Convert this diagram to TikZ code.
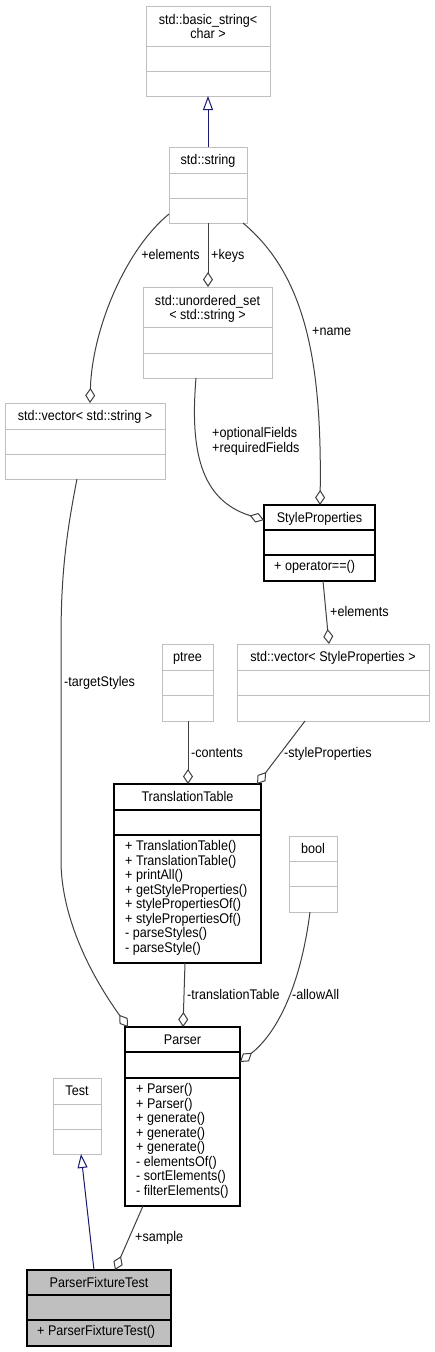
\documentclass[tikz,border=0pt]{standalone}
\usepackage{fontspec}
\setmainfont{Liberation Sans}[FakeStretch=0.9]
\usetikzlibrary{arrows.meta,calc}
\definecolor{edgec}{HTML}{404040}
\definecolor{grayb}{HTML}{BFBFBF}
\definecolor{navyc}{HTML}{191970}
\definecolor{fillg}{HTML}{BFBFBF}
% name, x1, y1, x2, y2, divider1, divider2, style
\newcommand\umlcls[8]{%
  \node[#8, anchor=north west, outer sep=0pt, inner sep=0pt, minimum width={#4-#2}, minimum height={#5-#3}] (#1) at (#2,#3) {};
  \draw[#8] (#2,#6) -- (#4,#6) (#2,#7) -- (#4,#7);
}
\begin{document}
\begin{tikzpicture}[x=1pt,y=-1pt,
  every node/.style={font=\fontsize{14}{14.5}\selectfont, inner sep=0pt},
  blk/.style={draw=black, line width=1.2pt},
  gry/.style={draw=grayb, line width=1pt},
  cur/.style={draw=black, line width=1.2pt, fill=fillg},
  agg/.style={draw=edgec, line width=1pt, -{Diamond[open,length=15pt,width=10pt]}},
  inh/.style={draw=navyc, line width=1pt, -{Triangle[open,length=14pt,width=10pt]}},
  ttl/.style={anchor=base},
  lbl/.style={anchor=base west},
  mth/.style={anchor=base west}]
\fill[white] (0,0) rectangle (435,1352);
\useasboundingbox (0,0) rectangle (435,1352);

% classes
\umlcls{bs}{146}{6}{270}{96}{46}{71}{gry}
\node[ttl] (bs-t1) at (208,24) {std::basic\_string<};
\node[ttl] (bs-t2) at (208,38.5) {char >};

\umlcls{str}{169}{147}{247}{223}{173}{198}{gry}
\node[ttl] (str-t) at (208,164.5) {std::string};

\umlcls{us}{143}{287}{272}{378}{327}{353}{gry}
\node[ttl] (us-t1) at (207.5,305) {std::unordered\_set};
\node[ttl] (us-t2) at (207.5,319.5) {< std::string >};

\umlcls{vs}{5}{403}{165}{479}{429}{454}{gry}
\node[ttl] (vs-t) at (85,420.5) {std::vector< std::string >};

\umlcls{sp}{264}{505}{375}{581}{530}{555}{blk}
\node[ttl] (sp-t) at (319.5,522.5) {StyleProperties};
\node[mth] (sp-m0) at (274,570.5) {+ operator==()};

\umlcls{pt}{162}{644}{213}{721}{670}{695}{gry}
\node[ttl] (pt-t) at (187.5,661.5) {ptree};

\umlcls{vsp}{237}{644}{429}{721}{670}{695}{gry}
\node[ttl] (vsp-t) at (333,661.5) {std::vector< StyleProperties >};

\umlcls{tt}{114}{784}{261}{963}{810}{835}{blk}
\node[ttl] (tt-t) at (187.5,801.5) {TranslationTable};
\foreach \t [count=\i from 0] in {+ TranslationTable(), + TranslationTable(), + printAll(), + getStyleProperties(), + stylePropertiesOf(), + stylePropertiesOf(), - parseStyles(), - parseStyle()}
  \node[mth] (tt-m\i) at (125,{850.5+14.5*\i}) {\t};

\umlcls{bool}{289}{836}{337}{912}{861}{886}{gry}
\node[ttl] (bool-t) at (313,853.5) {bool};

\umlcls{parser}{125}{1027}{240}{1206}{1052}{1078}{blk}
\node[ttl] (parser-t) at (182.5,1044) {Parser};
\foreach \t [count=\i from 0] in {+ Parser(), + Parser(), + generate(), + generate(), + generate(), - elementsOf(), - sortElements(), - filterElements()}
  \node[mth] (parser-m\i) at (136,{1093.5+14.5*\i}) {\t};

\umlcls{test}{53}{1078}{101}{1154}{1104}{1129}{gry}
\node[ttl] (test-t) at (77,1095.5) {Test};

\umlcls{pft}{27}{1270}{171}{1346}{1295}{1320}{cur}
\node[ttl] (pft-t) at (99,1287.5) {ParserFixtureTest};
\node[mth] (pft-m0) at (37,1335.5) {+ ParserFixtureTest()};

% connectors
\draw[inh] (str.north) -- (str.north |- bs.south);

\draw[agg] ($(str.south west)+(0,-9)$) .. controls (125,250) and (92,330) .. ($(vs.north west)+(85,0)$);
\node[anchor=base east] (l-el1) at (200,259) {+elements};

\draw[agg] (str.south) -- (str.south |- us.north);
\node[lbl] (l-keys) at (211,259) {+keys};

\draw[agg] ($(str.south east)+(-4,0)$) .. controls (305,275) and (322,360) .. ($(sp.north west)+(56,0)$);
\node[lbl] (l-name) at (312,335) {+name};

\draw[agg] ($(us.south west)+(53,0)$) .. controls (190,450) and (200,500) .. ($(sp.north west)+(0,15)$);
\node[lbl] (l-of) at (212,437.5) {+optionalFields};
\node[lbl] (l-rf) at (212,452) {+requiredFields};

\draw[agg] ($(sp.south west)+(59,0)$) -- ($(vsp.north west)+(92,0)$);
\node[lbl] (l-el2) at (330,616) {+elements};

\draw[agg] ($(pt.south west)+(26,0)$) -- ($(tt.north west)+(74,0)$);
\node[lbl] (l-cont) at (191,757) {-contents};

\draw[agg] ($(vsp.south west)+(68,0)$) -- ($(tt.north east)+(-4,0)$);
\node[lbl] (l-stp) at (284,757) {-styleProperties};

\draw[agg] ($(vs.south west)+(72,0)$) .. controls (65,540) and (61,580) .. (61,640) -- (61,860) .. controls (61,930) and (105,995) .. ($(parser.north west)+(3,0)$);
\node[lbl] (l-ts) at (64,686) {-targetStyles};

\draw[agg] ($(tt.south west)+(71,0)$) -- ($(parser.north west)+(58,0)$);
\node[lbl] (l-tt) at (187,999) {-translationTable};

\draw[agg] ($(bool.south west)+(21,0)$) .. controls (300,990) and (275,1035) .. ($(parser.north east)+(0,35)$);
\node[lbl] (l-aa) at (292,999) {-allowAll};

\draw[inh] ($(pft.north west)+(67,0)$) -- ($(test.south west)+(28,0)$);

\draw[agg] ($(parser.south west)+(18,0)$) -- ($(pft.north west)+(88,0)$);
\node[lbl] (l-smp) at (135,1241) {+sample};
\end{tikzpicture}
\end{document}
